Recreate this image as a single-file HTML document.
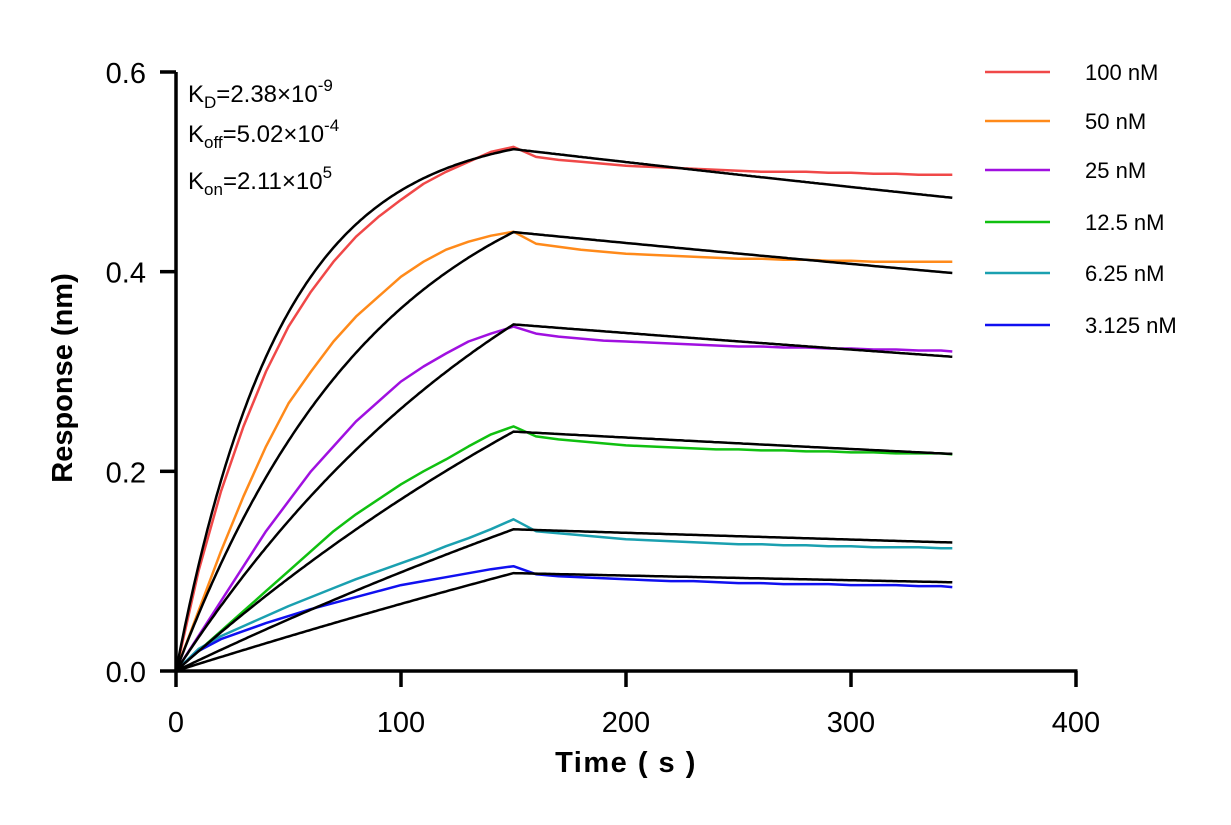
<!DOCTYPE html>
<html><head><meta charset="utf-8"><style>
body{margin:0;background:#fff}
svg{display:block;font-family:"Liberation Sans",Arial,sans-serif}
</style></head><body>
<svg id="chart" width="1231" height="825" viewBox="0 0 1231 825">
<g id="fits"></g>
<g id="series"></g>
<g id="axes"></g>
<g id="legend"></g>
<g font-size="24" fill="#000">
<text x="188" y="102">K<tspan font-size="17" dy="6">D</tspan><tspan dy="-6">=2.38×10</tspan><tspan font-size="17" dy="-11">-9</tspan></text>
<text x="188" y="142">K<tspan font-size="17" dy="6">off</tspan><tspan dy="-6">=5.02×10</tspan><tspan font-size="17" dy="-11">-4</tspan></text>
<text x="188" y="189">K<tspan font-size="17" dy="6">on</tspan><tspan dy="-6">=2.11×10</tspan><tspan font-size="17" dy="-11">5</tspan></text>
</g>
<text x="72" y="378" transform="rotate(-90 72 378)" text-anchor="middle" font-size="29" font-weight="bold">Response (nm)</text>
<text x="626" y="772" text-anchor="middle" font-size="29" font-weight="bold" letter-spacing="1.5">Time ( s )</text>
</svg>
<script>
const labels=["100 nM","50 nM","25 nM","12.5 nM","6.25 nM","3.125 nM"];
const colors=["#f04848","#ff8a1a","#a010e0","#10c010","#1aa0b0","#1010f0"];
const conc=[100e-9,50e-9,25e-9,12.5e-9,6.25e-9,3.125e-9];
const rmax=[0.557,0.569,0.656,0.760,0.820,1.08];
const kon=2.11e5, koff=5.02e-4, tAssoc=150, tEnd=345;
const times=[0,10,20,30,40,50,60,70,80,90,100,110,120,130,140,150,160,170,180,190,200,210,220,230,240,250,260,270,280,290,300,310,320,330,340,345];
const s100=[0,0.1,0.18,0.245,0.3,0.345,0.38,0.41,0.435,0.455,0.472,0.488,0.5,0.51,0.52,0.525,0.515,0.512,0.51,0.508,0.506,0.505,0.504,0.503,0.502,0.501,0.5,0.5,0.5,0.499,0.499,0.498,0.498,0.497,0.497,0.497];
const s50=[0,0.06,0.12,0.175,0.225,0.268,0.3,0.33,0.355,0.375,0.395,0.41,0.422,0.43,0.436,0.44,0.428,0.425,0.422,0.42,0.418,0.417,0.416,0.415,0.414,0.413,0.413,0.412,0.412,0.411,0.411,0.41,0.41,0.41,0.41,0.41];
const s25=[0,0.035,0.07,0.105,0.14,0.17,0.2,0.225,0.25,0.27,0.29,0.305,0.318,0.33,0.338,0.345,0.338,0.335,0.333,0.331,0.33,0.329,0.328,0.327,0.326,0.325,0.325,0.324,0.324,0.323,0.323,0.322,0.322,0.321,0.321,0.32];
const s12=[0,0.02,0.04,0.06,0.08,0.1,0.12,0.14,0.157,0.172,0.187,0.2,0.212,0.225,0.237,0.245,0.235,0.232,0.23,0.228,0.226,0.225,0.224,0.223,0.222,0.222,0.221,0.221,0.22,0.22,0.219,0.219,0.218,0.218,0.218,0.217];
const s6=[0,0.022,0.035,0.045,0.055,0.065,0.074,0.083,0.092,0.1,0.108,0.116,0.125,0.133,0.142,0.152,0.14,0.138,0.136,0.134,0.132,0.131,0.13,0.129,0.128,0.127,0.127,0.126,0.126,0.125,0.125,0.124,0.124,0.124,0.123,0.123];
const s3=[0,0.02,0.032,0.04,0.048,0.055,0.062,0.068,0.074,0.08,0.086,0.09,0.094,0.098,0.102,0.105,0.097,0.095,0.094,0.093,0.092,0.091,0.09,0.09,0.089,0.088,0.088,0.087,0.087,0.087,0.086,0.086,0.086,0.085,0.085,0.084];
const measured=[s100,s50,s25,s12,s6,s3];
const xTicks=[0,100,200,300,400];
const yTicks=[0,0.2,0.4,0.6];
const yTickLabels=["0.0","0.2","0.4","0.6"];

const X0=176,X1=1076,Y0=671,Y1=72;
const xs=t=>X0+(t/400)*(X1-X0);
const ys=v=>Y0-(v/0.6)*(Y0-Y1);
const NS="http://www.w3.org/2000/svg";
function mk(tag,parent,attrs){const e=document.createElementNS(NS,tag);for(const k in attrs)e.setAttribute(k,attrs[k]);parent.appendChild(e);return e;}

const series=document.getElementById('series');
measured.forEach((arr,i)=>{
  const d=arr.map((v,j)=>(j?'L':'M')+xs(times[j]).toFixed(1)+','+ys(v).toFixed(1)).join('');
  const p=mk('path',series,{d:d,fill:'none',stroke:colors[i],'stroke-width':2.5,'stroke-linejoin':'round'});
  
  
});
const fits=document.getElementById('fits');
conc.forEach((c,i)=>{
  const kobs=kon*c+koff, req=rmax[i]*kon*c/kobs;
  const r150=req*(1-Math.exp(-kobs*tAssoc));
  let d='';
  for(let t=0;t<=tEnd;t+=1){
    const v=t<=tAssoc?req*(1-Math.exp(-kobs*t)):r150*Math.exp(-koff*(t-tAssoc));
    d+=(t?'L':'M')+xs(t).toFixed(1)+','+ys(v).toFixed(1);
  }
  const p=mk('path',fits,{d:d,fill:'none',stroke:'#000','stroke-width':2.5});
  
  
});
document.getElementById('chart').insertBefore(series,fits);

const axes=document.getElementById('axes');
const xa=mk('line',axes,{x1:X0-1.5,y1:Y0,x2:X1+1.5,y2:Y0,stroke:'#000','stroke-width':3.5});


const ya=mk('line',axes,{x1:X0,y1:Y1,x2:X0,y2:Y0+1.5,stroke:'#000','stroke-width':3.5});


xTicks.forEach(t=>{
  const l=mk('line',axes,{x1:xs(t),y1:Y0,x2:xs(t),y2:Y0+16,stroke:'#000','stroke-width':3.5});
  
  
  const tx=mk('text',axes,{x:xs(t),y:Y0+61,'text-anchor':'middle','font-size':29});
  tx.textContent=t;
  
  
});
yTicks.forEach((v,i)=>{
  const l=mk('line',axes,{x1:X0-16,y1:ys(v),x2:X0,y2:ys(v),stroke:'#000','stroke-width':3.5});
  
  
  const tx=mk('text',axes,{x:X0-30,y:ys(v)+11,'text-anchor':'end','font-size':29});
  tx.textContent=yTickLabels[i];
  
  
});
const legend=document.getElementById('legend');
const ly=[72,121,170,222,273,325];
labels.forEach((lb,i)=>{
  const l=mk('line',legend,{x1:985,y1:ly[i],x2:1050,y2:ly[i],stroke:colors[i],'stroke-width':2.5});
  
  
  const tx=mk('text',legend,{x:1085,y:ly[i]+8,'font-size':22});
  tx.textContent=lb;
  
  
});
</script>
</body></html>
